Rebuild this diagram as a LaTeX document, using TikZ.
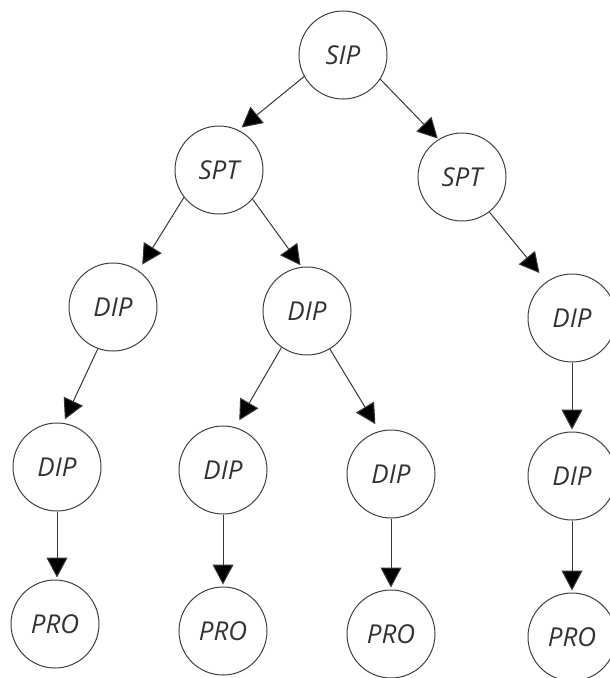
\documentclass[tikz,border=0pt]{standalone}
\usepackage{fontspec}
\setmainfont{Open Sans}
\usetikzlibrary{arrows.meta}
\begin{document}
\begin{tikzpicture}[x=1pt,y=-1pt,
  state/.style={circle,draw=black!75,line width=1pt,minimum size=88pt,inner sep=0pt,
    font=\fontsize{26}{30}\selectfont\itshape,text=black!80},
  link/.style={draw=black!78,line width=1pt,
    -{Triangle[length=20pt,width=21pt,fill=black]}}]
\useasboundingbox (0,0) rectangle (610,678);

% nodes
\node[state] (sip)  at (343,55)  {SIP};
\node[state] (sptl) at (219,170) {SPT};
\node[state] (sptr) at (462,177) {SPT};
\node[state] (dipa) at (113,307) {DIP};
\node[state] (dipb) at (307,311) {DIP};
\node[state] (dipc) at (572,318) {DIP};
\node[state] (dipd) at (57,467)  {DIP};
\node[state] (dipe) at (223,470) {DIP};
\node[state] (dipf) at (391,474) {DIP};
\node[state] (dipg) at (572,476) {DIP};
\node[state] (proh) at (55,624)  {PRO};
\node[state] (proi) at (223,631) {PRO};
\node[state] (proj) at (391,634) {PRO};
\node[state] (prok) at (572,637) {PRO};

% edges
\draw[link,shorten >=4pt]  (sip.209)  -- (sptl.64);
\draw[link,shorten >=1pt]  (sip.327)  -- (sptr.122);
\draw[link,shorten >=7pt]  (sptl.218) -- (dipa.55);
\draw[link,shorten >=2pt]  (sptl.319) -- (dipb.97);
\draw[link,shorten >=11pt] (sptr.308) -- (dipc.125);
\draw[link,shorten >=4pt]  (dipa.250) -- (dipd.82);
\draw[link,shorten >=8pt]  (dipb.235) -- (dipe.74);
\draw[link,shorten >=8pt]  (dipb.301) -- (dipf.105);
\draw[link,shorten >=2pt]  (dipc.270) -- (dipg.90);
\draw[link,shorten >=2pt]  (dipd.270) -- (proh.90 -| dipd.270);
\draw[link,shorten >=2pt]  (dipe.270) -- (proi.90);
\draw[link,shorten >=2pt]  (dipf.270) -- (proj.90);
\draw[link,shorten >=2pt]  (dipg.270) -- (prok.90);
\end{tikzpicture}
\end{document}
